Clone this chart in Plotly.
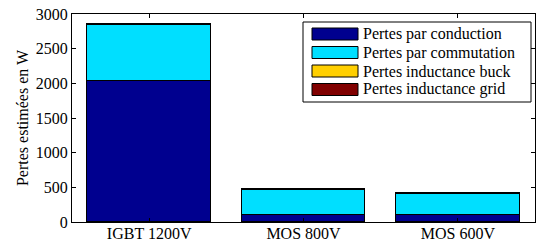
import plotly.graph_objects as go

categories = ["IGBT 1200V", "MOS 800V", "MOS 600V"]
series_names = ["Pertes par conduction", "Pertes par commutation",
                "Pertes inductance buck", "Pertes inductance grid"]
conduction = [2040, 105, 105]
commutation = [805, 355, 295]
buck = [8, 8, 8]
grid = [8, 8, 8]
y_ticks = [0, 500, 1000, 1500, 2000, 2500, 3000]
colors = ["#00008F", "#00DFFF", "#FFCF00", "#800000"]

FONT = "Liberation Serif"
FS = 16
LFS = 16
series_values = [conduction, commutation, buck, grid]

fig = go.Figure()
for name, vals, col in zip(series_names, series_values, colors):
    fig.add_trace(go.Bar(
        x=list(range(len(categories))), y=vals, name=name,
        marker=dict(color=col, line=dict(color="black", width=1)),
        width=0.8, showlegend=False,
    ))

# custom MATLAB-style legend
lx0, lx1, ly0, ly1 = 303, 531, 22, 102
W, H = 539, 243
ml, mr, mt, mb = 72, 4, 14, 21
pw, ph = W - ml - mr, H - mt - mb

def px(x):
    return (x - ml) / pw

def py(y):
    return 1 - (y - mt) / ph

shapes = [dict(type="rect", xref="paper", yref="paper",
               x0=px(lx0), x1=px(lx1), y0=py(ly1), y1=py(ly0),
               line=dict(color="black", width=1), fillcolor="white", layer="above")]
annotations = []
for i, (name, col) in enumerate(zip(series_names, colors)):
    cy = 34 + i * 18.5
    shapes.append(dict(type="rect", xref="paper", yref="paper",
                       x0=px(312), x1=px(358), y0=py(cy + 6), y1=py(cy - 6),
                       line=dict(color="black", width=1), fillcolor=col, layer="above"))
    annotations.append(dict(xref="paper", yref="paper", x=px(361), y=py(cy),
                            text=name, showarrow=False, xanchor="left", yanchor="middle",
                            font=dict(family=FONT, size=LFS, color="black")))

fig.update_layout(
    barmode="stack",
    width=W, height=H,
    margin=dict(l=ml, r=mr, t=mt, b=mb, autoexpand=False),
    paper_bgcolor="white", plot_bgcolor="white",
    bargap=0,
    shapes=shapes, annotations=annotations,
    font=dict(family=FONT, size=FS, color="black"),
    xaxis=dict(range=[-0.5, 2.5], tickmode="array", tickvals=list(range(len(categories))),
               ticktext=categories, ticks="inside", ticklen=4, tickcolor="black",
               showline=True, linecolor="black", linewidth=1, mirror="ticks",
               showgrid=False, zeroline=False, tickfont=dict(family=FONT, size=FS),
               automargin=False, ticklabelstandoff=-3),
    yaxis=dict(range=[0, 3000], tickmode="array", tickvals=y_ticks,
               ticks="inside", ticklen=4, tickcolor="black",
               showline=True, linecolor="black", linewidth=1, mirror="ticks",
               showgrid=False, zeroline=False, tickfont=dict(family=FONT, size=FS),
               automargin=False,
               title=dict(text="Pertes estimées en W", font=dict(family=FONT, size=FS),
                          standoff=3)),
)

fig.write_html("out.html", config={"displayModeBar": False},
               post_script="document.body.style.margin='0';document.body.style.padding='0';")
